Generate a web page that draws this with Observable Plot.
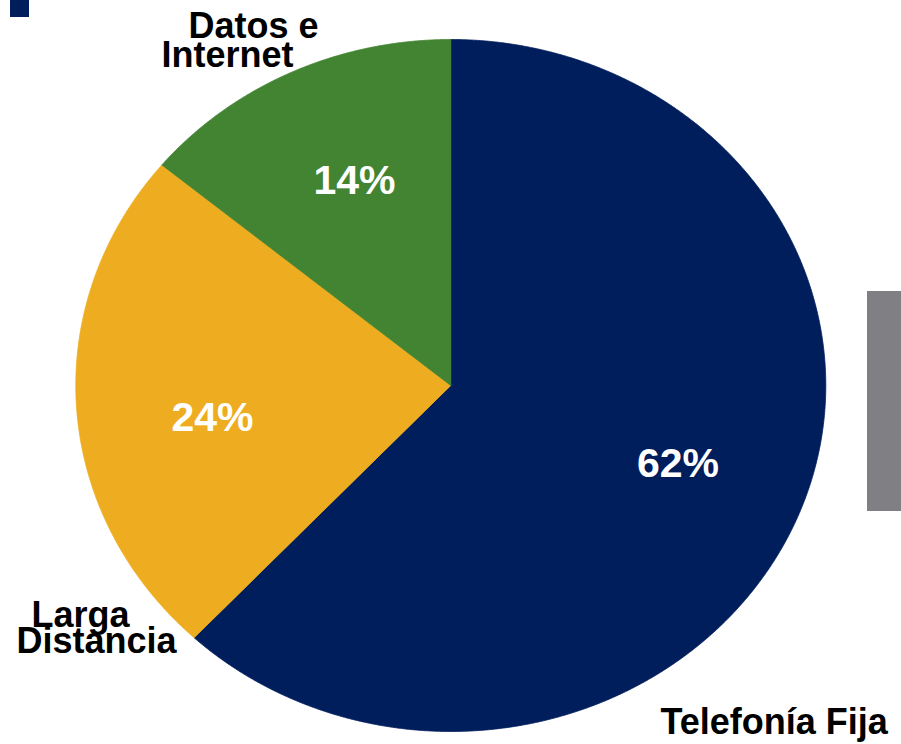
<!DOCTYPE html>
<html>
<head>
<meta charset="utf-8">
<script src="https://cdn.jsdelivr.net/npm/d3@7"></script>
<script src="https://cdn.jsdelivr.net/npm/@observablehq/plot@0.6"></script>
<style>
  html, body { margin: 0; padding: 0; background: #ffffff; }
  #wrap { position: relative; width: 901px; height: 744px; overflow: hidden; background: #fff; }
  #wrap svg { position: absolute; left: 0; top: 0; }
  .deco { position: absolute; }
</style>
</head>
<body>
<div id="wrap"></div>
<script>
// ---- data ----
const categories = ["Telefonía Fija", "Larga Distancia", "Datos e Internet"];
const shares = [62, 24, 14];
const percentLabels = ["62%", "24%", "14%"];
const categoryLines = [["Telefonía Fija"], ["Larga", "Distancia"], ["Datos e", "Internet"]];
const colors = ["#001D5C", "#EEAD21", "#438432"];

// ---- layout (pixel frame of the ellipse) ----
const W = 901, H = 744;
const cx = 450.3, cy = 385, rx = 375, ry = 346;
const toX = px => (px - cx) / rx;   // pixel -> data unit
const toY = py => (cy - py) / ry;

// slices from the pie layout (clockwise from 12 o'clock)
const total = d3.sum(shares);
const slicePts = [];
let start = 0;
categories.forEach((c, i) => {
  const end = start + shares[i] / total * 2 * Math.PI;
  slicePts.push({category: c, x: 0, y: 0});
  const n = Math.max(2, Math.ceil((end - start) / (Math.PI / 720)));
  for (let k = 0; k <= n; k++) {
    const a = start + (end - start) * k / n;
    slicePts.push({category: c, x: Math.sin(a), y: Math.cos(a)});
  }
  slicePts.push({category: c, x: 0, y: 0});
  start = end;
});

// label placement (pixel layout, converted to data units)
const pctPos = [[677.5, 476], [212, 430], [354, 193]];   // baseline-centre of % labels
const catPos = [                                          // left/baseline of each line
  [[660, 733]],
  [[31, 626], [16, 652]],
  [[188, 37], [161, 66]]
];
const pctData = percentLabels.map((t, i) => ({text: t, x: toX(pctPos[i][0]), y: toY(pctPos[i][1])}));
const catData = [];
categoryLines.forEach((lines, i) => lines.forEach((t, j) => {
  catData.push({text: t, x: toX(catPos[i][j][0]), y: toY(catPos[i][j][1])});
}));

const chart = Plot.plot({
  width: W,
  height: H,
  marginLeft: cx - rx,
  marginRight: W - (cx + rx),
  marginTop: cy - ry,
  marginBottom: H - (cy + ry),
  x: {domain: [-1, 1], axis: null},
  y: {domain: [-1, 1], axis: null},
  color: {domain: categories, range: colors},
  style: {background: "transparent", overflow: "visible"},
  marks: [
    Plot.line(slicePts, {x: "x", y: "y", z: "category", fill: "category", stroke: "category", strokeWidth: 0.8, curve: "linear"}),
    Plot.text(pctData, {x: "x", y: "y", text: "text", fill: "white", fontSize: 41, fontWeight: "bold",
      fontFamily: "Liberation Sans, Arial, sans-serif", textAnchor: "middle", lineAnchor: "bottom", ariaLabel: "pct-labels"}),
    Plot.text(catData, {x: "x", y: "y", text: "text", fill: "black", fontSize: 36, fontWeight: "bold",
      fontFamily: "Liberation Sans, Arial, sans-serif", textAnchor: "start", lineAnchor: "bottom", ariaLabel: "cat-labels"})
  ]
});

// squash category labels vertically about their baseline (as in the reference)
d3.select(chart).selectAll('g[aria-label="cat-labels"] text').each(function() {
  const t = this.getAttribute("transform") || "";
  this.setAttribute("transform", t + " scale(1,0.88)");
  if (this.textContent.trim().startsWith("Telefon")) this.style.letterSpacing = "0.75px";
});

const wrap = document.getElementById("wrap");
wrap.appendChild(chart);

// decorative cropped elements of the original slide
const sq = document.createElement("div");
sq.className = "deco";
Object.assign(sq.style, {left: "10px", top: "0px", width: "19px", height: "17px", background: "#001D5C"});
wrap.appendChild(sq);
const gr = document.createElement("div");
gr.className = "deco";
Object.assign(gr.style, {left: "867px", top: "291px", width: "34px", height: "220px", background: "#807F83"});
wrap.appendChild(gr);
</script>
</body>
</html>
